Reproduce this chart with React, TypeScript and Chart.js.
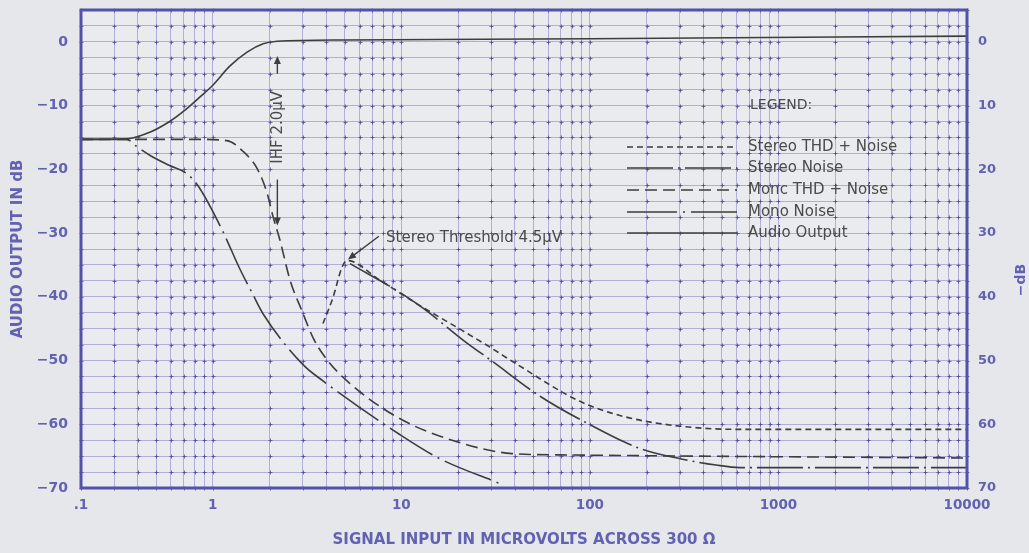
import React, { useEffect, useRef } from 'react';
import { Chart, registerables } from 'chart.js';

Chart.register(...registerables);

// ---------- axes ----------
const xMin = 0.2;
const xMax = 10000;
const yMin = -70;
const yMax = 5;
const xTickValues = [0.2, 1, 10, 100, 1000, 10000];
const xTickLabels = ['.1', '1', '10', '100', '1000', '10000'];
const yTickValues = [0, -10, -20, -30, -40, -50, -60, -70];
const rightTickValues = [0, 10, 20, 30, 40, 50, 60, 70];
const yGridStep = 2.5;

const xTitle = 'SIGNAL INPUT IN MICROVOLTS ACROSS 300 Ω';
const yTitle = 'AUDIO OUTPUT IN dB';
const rightTitle = '−dB';

// ---------- series ----------
const seriesLabels = ['Stereo THD + Noise', 'Stereo Noise', 'Monc THD + Noise', 'Mono Noise', 'Audio Output'];

const stereoThdX = [3.84, 4.34, 4.84, 5.15, 7.7, 12.1, 20, 29.5, 40.6, 88.5, 152, 301, 625, 10000];
const stereoThdY = [-44.2, -40.1, -35.4, -34.3, -37.4, -41.1, -44.9, -47.9, -50.5, -56.4, -58.8, -60.3, -60.8, -60.8];

const stereoNoiseX = [5.34, 9.8, 13.2, 21.5, 30.3, 54.4, 97.7, 184, 301, 467, 625, 10000];
const stereoNoiseY = [-34.8, -39.3, -41.9, -46.9, -50.1, -55.6, -59.9, -63.8, -65.4, -66.4, -66.8, -66.8];

const monoThdX = [0.2, 0.85, 1.19, 1.45, 1.72, 1.94, 2.09, 2.27, 2.57, 2.97, 3.4, 3.9, 5.15, 9.8, 19.5, 38.6, 69, 10000];
const monoThdY = [-15.3, -15.3, -15.5, -17.2, -19.9, -23.7, -27.5, -31.1, -37.4, -42.2, -46.4, -49.3, -53.2, -59.1, -62.7, -64.6, -64.8, -65.3];

const monoNoiseX = [0.2, 0.35, 0.39, 0.47, 0.59, 0.73, 0.84, 1.12, 1.39, 1.61, 1.85, 3.0, 3.84, 9.8, 16, 34];
const monoNoiseY = [-15.3, -15.3, -16.3, -17.9, -19.4, -20.7, -22.7, -29.5, -35.6, -39.3, -42.7, -50.6, -53.2, -61.6, -65.4, -69.4];

const audioX = [0.2, 0.35, 0.47, 0.59, 0.72, 0.85, 1.0, 1.23, 1.52, 1.85, 2.2, 5, 100, 10000];
const audioY = [-15.3, -15.2, -14.1, -12.5, -10.6, -8.7, -6.8, -3.8, -1.6, -0.3, 0.1, 0.3, 0.5, 0.9];

// ---------- annotations (data units) ----------
const ihfLabel = 'IHF 2.0μV';
const ihfX = 2.2;
const ihfUpTip = -2.2;
const ihfUpTail = -5.0;
const ihfTextCenter = -13.4;
const ihfDownTail = -21.6;
const ihfDownTip = -28.8;

const thresholdLabel = 'Stereo Threshold 4.5μV';
const thresholdTip = { x: 5.15, y: -34.3 };
const thresholdLeaderStart = { x: 7.6, y: -30.5 };
const thresholdTextAt = { x: 8.3, y: -30.8 };

const legendTitle = 'LEGEND:';

// ---------- styles ----------
const PAGE_BG = '#e6e7ea';
const PLOT_BG = '#eaebee';
const BLUE = '#6262b2';
const FRAME = '#5252aa';
const GRID = 'rgba(115,115,195,0.5)';
const DOT = 'rgba(70,70,140,0.75)';
const INK = '#3d3d3d';
const TEXT_INK = '#4a4a4a';
const FONT = '"DejaVu Sans", sans-serif';

function arrow(ctx: CanvasRenderingContext2D, x1: number, y1: number, x2: number, y2: number) {
  const ang = Math.atan2(y2 - y1, x2 - x1);
  const len = 8;
  const hw = 3.5;
  ctx.beginPath();
  ctx.moveTo(x1, y1);
  ctx.lineTo(x2 - Math.cos(ang) * len * 0.6, y2 - Math.sin(ang) * len * 0.6);
  ctx.stroke();
  ctx.beginPath();
  ctx.moveTo(x2, y2);
  ctx.lineTo(x2 - Math.cos(ang) * len - Math.sin(ang) * hw, y2 - Math.sin(ang) * len + Math.cos(ang) * hw);
  ctx.lineTo(x2 - Math.cos(ang) * len + Math.sin(ang) * hw, y2 - Math.sin(ang) * len - Math.cos(ang) * hw);
  ctx.closePath();
  ctx.fill();
}

const bgPlugin = {
  id: 'bgPlugin',
  beforeDraw(chart: any) {
    const { ctx, width, height, chartArea: a } = chart;
    ctx.save();
    ctx.fillStyle = PAGE_BG;
    ctx.fillRect(0, 0, width, height);
    ctx.fillStyle = PLOT_BG;
    ctx.fillRect(a.left, a.top, a.right - a.left, a.bottom - a.top);
    ctx.restore();
  },
};

const gridDotsPlugin = {
  id: 'gridDots',
  beforeDatasetsDraw(chart: any) {
    const { ctx, scales } = chart;
    const x = scales.x;
    const y = scales.y;
    ctx.save();
    ctx.strokeStyle = DOT;
    ctx.lineWidth = 1;
    ctx.beginPath();
    for (const tx of x.ticks) {
      const px = Math.round(x.getPixelForValue(tx.value)) + 0.5;
      for (const ty of y.ticks) {
        const py = Math.round(y.getPixelForValue(ty.value)) + 0.5;
        ctx.moveTo(px - 2, py);
        ctx.lineTo(px + 2, py);
        ctx.moveTo(px, py - 2);
        ctx.lineTo(px, py + 2);
      }
    }
    ctx.stroke();
    ctx.restore();
  },
};

const framePlugin = {
  id: 'framePlugin',
  afterDatasetsDraw(chart: any) {
    const { ctx, chartArea: a } = chart;
    ctx.save();
    ctx.strokeStyle = FRAME;
    ctx.lineWidth = 3;
    ctx.strokeRect(a.left, a.top, a.right - a.left, a.bottom - a.top);
    ctx.restore();
  },
};

const annotationPlugin = {
  id: 'annotationPlugin',
  afterDraw(chart: any) {
    const { ctx, scales } = chart;
    const x = scales.x;
    const y = scales.y;
    ctx.save();
    ctx.strokeStyle = INK;
    ctx.fillStyle = INK;
    ctx.lineWidth = 1.4;
    ctx.setLineDash([]);

    // IHF marker
    const ix = x.getPixelForValue(ihfX);
    arrow(ctx, ix, y.getPixelForValue(ihfUpTail), ix, y.getPixelForValue(ihfUpTip));
    arrow(ctx, ix, y.getPixelForValue(ihfDownTail), ix, y.getPixelForValue(ihfDownTip));
    ctx.save();
    ctx.translate(ix, y.getPixelForValue(ihfTextCenter));
    ctx.rotate(-Math.PI / 2);
    ctx.fillStyle = TEXT_INK;
    ctx.font = `15px ${FONT}`;
    ctx.textAlign = 'center';
    ctx.textBaseline = 'middle';
    ctx.fillText(ihfLabel, 0, 1);
    ctx.restore();

    // Stereo threshold
    arrow(
      ctx,
      x.getPixelForValue(thresholdLeaderStart.x),
      y.getPixelForValue(thresholdLeaderStart.y),
      x.getPixelForValue(thresholdTip.x) + 1,
      y.getPixelForValue(thresholdTip.y) - 1
    );
    ctx.fillStyle = TEXT_INK;
    ctx.font = `15px ${FONT}`;
    ctx.textAlign = 'left';
    ctx.textBaseline = 'middle';
    ctx.fillText(thresholdLabel, x.getPixelForValue(thresholdTextAt.x), y.getPixelForValue(thresholdTextAt.y));

    // right axis title
    ctx.save();
    ctx.translate(1021, 280);
    ctx.rotate(-Math.PI / 2);
    ctx.fillStyle = BLUE;
    ctx.font = `bold 14px ${FONT}`;
    ctx.textAlign = 'center';
    ctx.textBaseline = 'middle';
    ctx.fillText(rightTitle, 0, 0);
    ctx.restore();

    // legend
    ctx.fillStyle = TEXT_INK;
    ctx.font = `14px ${FONT}`;
    ctx.textAlign = 'left';
    ctx.textBaseline = 'middle';
    ctx.fillText(legendTitle, 750, 105);
    const rows = [147, 168, 190, 212, 233];
    chart.data.datasets.forEach((ds: any, i: number) => {
      const ry = rows[i];
      ctx.strokeStyle = ds.borderColor;
      ctx.lineWidth = ds.borderWidth;
      ctx.setLineDash(ds.borderDash || []);
      ctx.beginPath();
      ctx.moveTo(627, ry);
      ctx.lineTo(737, ry);
      ctx.stroke();
      ctx.setLineDash([]);
      ctx.fillStyle = TEXT_INK;
      ctx.font = `15px ${FONT}`;
      ctx.fillText(ds.label, 748, ry);
    });
    ctx.restore();
  },
};

function makeSeries(xs: number[], ys: number[]) {
  return xs.map((v, i) => ({ x: v, y: ys[i] }));
}

function zeroPad(s: any) {
  s.paddingTop = 0;
  s.paddingBottom = 0;
  s.paddingLeft = 0;
  s.paddingRight = 0;
}

export default function App() {
  const canvasRef = useRef<HTMLCanvasElement | null>(null);

  useEffect(() => {
    document.body.style.margin = '0';
    document.body.style.background = PAGE_BG;
    const canvas = canvasRef.current;
    if (!canvas) return;

    const dashes = [[6, 4], [46, 5, 2, 5], [12, 6], [50, 6, 2, 6], []];
    const xsList = [stereoThdX, stereoNoiseX, monoThdX, monoNoiseX, audioX];
    const ysList = [stereoThdY, stereoNoiseY, monoThdY, monoNoiseY, audioY];

    const xGrid: number[] = [];
    for (let e = -1; e <= 4; e++) {
      for (let m = 1; m <= 9; m++) {
        const v = Number((m * Math.pow(10, e)).toPrecision(6));
        if (v >= xMin - 1e-9 && v <= xMax + 1e-9) xGrid.push(v);
      }
    }
    const yGrid: number[] = [];
    for (let v = yMin; v <= yMax + 1e-9; v += yGridStep) yGrid.push(v);

    const chart = new Chart(canvas, {
      type: 'scatter',
      data: {
        datasets: seriesLabels.map((label, i) => ({
          label,
          data: makeSeries(xsList[i], ysList[i]),
          showLine: true,
          borderColor: INK,
          backgroundColor: INK,
          borderWidth: 1.6,
          borderDash: dashes[i],
          pointRadius: 0,
          pointHoverRadius: 0,
          cubicInterpolationMode: 'monotone',
          fill: false,
          xAxisID: 'x',
          yAxisID: 'y',
        })),
      },
      options: {
        responsive: false,
        devicePixelRatio: 1,
        animation: false,
        events: [],
        layout: { padding: { top: 10, left: 0, right: 0, bottom: 0 } },
        plugins: {
          legend: { display: false },
          tooltip: { enabled: false },
        },
        scales: {
          x: {
            type: 'logarithmic',
            position: 'bottom',
            min: xMin,
            max: xMax,
            afterBuildTicks: (s: any) => {
              s.ticks = xGrid.map((v) => ({ value: v }));
            },
            afterFit: (s: any) => {
              s.height = 65;
              zeroPad(s);
            },
            grid: { color: GRID, lineWidth: 1, drawTicks: false },
            border: { display: false },
            ticks: {
              autoSkip: false,
              maxRotation: 0,
              minRotation: 0,
              padding: 9,
              color: BLUE,
              font: { family: 'DejaVu Sans', weight: 'bold', size: 13.5 },
              callback: (value: any) => {
                const idx = xTickValues.findIndex((t) => Math.abs(t - value) / t < 1e-6);
                return idx >= 0 ? xTickLabels[idx] : '';
              },
            },
            title: {
              display: true,
              text: xTitle,
              color: BLUE,
              font: { family: 'DejaVu Sans', weight: 'bold', size: 15 },
              padding: { top: 0, bottom: 4 },
            },
          },
          y: {
            type: 'linear',
            position: 'left',
            min: yMin,
            max: yMax,
            afterBuildTicks: (s: any) => {
              s.ticks = yGrid.map((v) => ({ value: v }));
            },
            afterFit: (s: any) => {
              s.width = 81;
              zeroPad(s);
            },
            grid: { color: GRID, lineWidth: 1, drawTicks: false },
            border: { display: false },
            ticks: {
              autoSkip: false,
              padding: 13,
              color: BLUE,
              font: { family: 'DejaVu Sans', weight: 'bold', size: 14 },
              callback: (value: any) => {
                if (!yTickValues.includes(value)) return '';
                return value < 0 ? '−' + Math.abs(value) : String(value);
              },
            },
            title: {
              display: true,
              text: yTitle,
              color: BLUE,
              font: { family: 'DejaVu Sans', weight: 'bold', size: 15 },
              padding: { top: 9, bottom: 0 },
            },
          },
          y2: {
            type: 'linear',
            position: 'right',
            reverse: true,
            min: -yMax,
            max: -yMin,
            afterBuildTicks: (s: any) => {
              s.ticks = rightTickValues.map((v) => ({ value: v }));
            },
            afterFit: (s: any) => {
              s.width = 62;
              zeroPad(s);
            },
            grid: { display: false, drawTicks: false },
            border: { display: false },
            ticks: {
              autoSkip: false,
              padding: 11,
              color: BLUE,
              font: { family: 'DejaVu Sans', weight: 'bold', size: 13 },
              callback: (value: any) => String(value),
            },
          },
        },
      } as any,
      plugins: [bgPlugin, gridDotsPlugin, framePlugin, annotationPlugin],
    });

    return () => {
      chart.destroy();
    };
  }, []);

  return (
    <div style={{ position: 'absolute', left: 0, top: 0, width: 1029, height: 553, background: PAGE_BG }}>
      <canvas ref={canvasRef} width={1029} height={553} style={{ width: 1029, height: 553, display: 'block' }} />
    </div>
  );
}
